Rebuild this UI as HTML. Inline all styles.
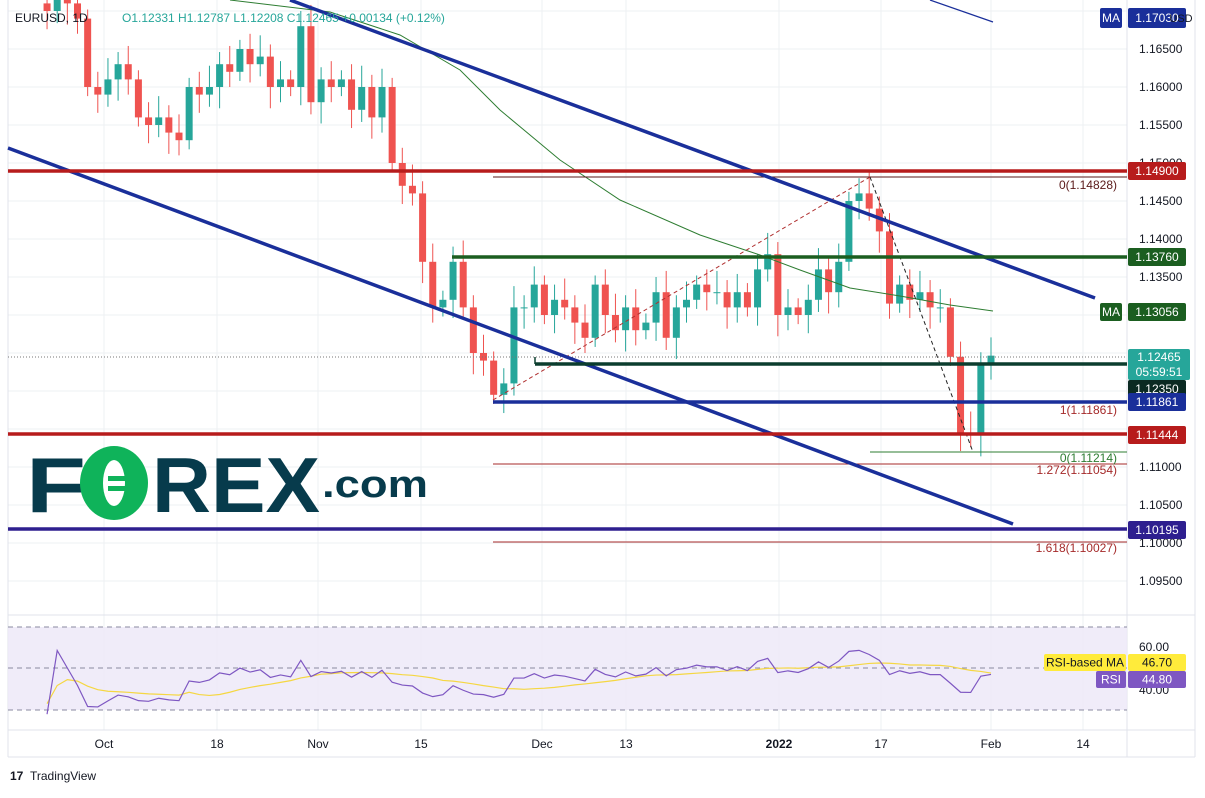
<!DOCTYPE html><html><head><meta charset="utf-8"><style>
body{margin:0;background:#fff;font-family:"Liberation Sans",sans-serif}
svg text{font-family:"Liberation Sans",sans-serif}
</style></head><body>
<svg id="s" width="1205" height="793" viewBox="0 0 1205 793" xmlns="http://www.w3.org/2000/svg">
<rect width="1205" height="793" fill="#fff"/>
<g id="grid" stroke="#eef0f3" stroke-width="1"></g>
<g id="cnd"></g>
<g id="ov"></g>
<g id="rsi"></g>
<g id="lab"></g>
</svg>
<script>
const NS="http://www.w3.org/2000/svg";
function el(p,t,a,txt){const e=document.createElementNS(NS,t);for(const k in a)e.setAttribute(k,a[k]);if(txt!==undefined)e.textContent=txt;document.getElementById(p).appendChild(e);return e;}
const Y=p=>49+(1.165-p)*7600;
for(let p=1.095;p<=1.1701;p+=0.005)el('grid','line',{x1:8,x2:1127,y1:Y(p),y2:Y(p)});
[104,217,318,421,542,626,779,881,991,1083].forEach(x=>el('grid','line',{x1:x,x2:x,y1:0,y2:730}));
el('grid','line',{x1:1127,x2:1127,y1:0,y2:757,stroke:'#e0e3eb'});
el('grid','line',{x1:8,x2:1195,y1:615,y2:615,stroke:'#e0e3eb'});
el('grid','line',{x1:8,x2:1195,y1:730,y2:730,stroke:'#e0e3eb'});
el('grid','line',{x1:8,x2:1195,y1:757,y2:757,stroke:'#e0e3eb'});
el('grid','line',{x1:1195,x2:1195,y1:0,y2:757,stroke:'#e0e3eb'});
el('grid','line',{x1:8,x2:8,y1:0,y2:757,stroke:'#e0e3eb'});
const C=[1.171,1.170,1.172,1.171,1.169,1.160,1.159,1.161,1.163,1.161,1.156,1.155,1.156,1.154,1.153,1.160,1.159,1.160,1.163,1.162,1.165,1.163,1.164,1.160,1.161,1.160,1.168,1.158,1.161,1.160,1.161,1.157,1.160,1.156,1.160,1.150,1.147,1.146,1.137,1.131,1.132,1.137,1.131,1.125,1.124,1.1195,1.121,1.131,1.131,1.134,1.130,1.132,1.131,1.129,1.127,1.134,1.130,1.128,1.131,1.128,1.129,1.133,1.127,1.131,1.132,1.134,1.133,1.133,1.131,1.133,1.131,1.136,1.138,1.130,1.131,1.130,1.132,1.136,1.133,1.137,1.145,1.146,1.144,1.141,1.1315,1.134,1.132,1.133,1.131,1.131,1.1245,1.1145,1.1142,1.1235,1.12465];
const N=C.length;
for(let i=1;i<N;i++){
 const x=991-(N-1-i)*10.15,o=C[i-1],c=C[i];
 const up=c>=o,col=up?'#26a69a':'#ef5350';
 const h=Math.max(o,c)+0.0012+((i*7)%5)*0.0004,l=Math.min(o,c)-0.0012-((i*3)%5)*0.0004;
 el('cnd','line',{x1:x,x2:x,y1:Y(h),y2:Y(l),stroke:col,'stroke-width':1});
 const t=Y(Math.max(o,c)),b=Y(Math.min(o,c));
 el('cnd','rect',{x:x-3.5,y:t,width:7,height:Math.max(1,b-t),fill:col});
}
const ov=(a)=>el('ov','line',a);
el('ov','polyline',{points:'230,0 330,12 400,35 460,70 500,110 560,160 620,200 700,235 760,255 800,270 850,288 900,296 950,305 993,311',fill:'none',stroke:'#2e7d32','stroke-width':1});
ov({x1:8,x2:1127,y1:357,y2:357,stroke:'#777','stroke-dasharray':'1,2'});
ov({x1:493,x2:1127,y1:177,y2:177,stroke:'#5a1a1a','stroke-width':1});
ov({x1:870,x2:1127,y1:452,y2:452,stroke:'#2e7d32','stroke-width':1});
ov({x1:493,x2:1127,y1:464,y2:464,stroke:'#a52a2a','stroke-width':1});
ov({x1:493,x2:1127,y1:542,y2:542,stroke:'#a52a2a','stroke-width':1});
ov({x1:493,x2:870,y1:400,y2:177,stroke:'#b03030','stroke-dasharray':'4,3'});
ov({x1:870,x2:973,y1:177,y2:452,stroke:'#222','stroke-dasharray':'4,3'});
ov({x1:290,x2:1095,y1:0,y2:298,stroke:'#1a2f9a','stroke-width':3.5});
ov({x1:8,x2:1013,y1:148,y2:524,stroke:'#1a2f9a','stroke-width':3.5});
ov({x1:930,x2:993,y1:0,y2:22,stroke:'#1a2f9a','stroke-width':1.2});
ov({x1:8,x2:1127,y1:171,y2:171,stroke:'#b71c1c','stroke-width':3.5});
ov({x1:452,x2:1127,y1:257,y2:257,stroke:'#1b5e20','stroke-width':3.5});
ov({x1:535,x2:1127,y1:364,y2:364,stroke:'#0b3d2e','stroke-width':3.5});
ov({x1:535,x2:535,y1:357,y2:364,stroke:'#0b3d2e','stroke-width':1.5});
ov({x1:493,x2:1127,y1:402,y2:402,stroke:'#1a2f9a','stroke-width':3.5});
ov({x1:8,x2:1127,y1:434,y2:434,stroke:'#b71c1c','stroke-width':3.5});
ov({x1:8,x2:1127,y1:529,y2:529,stroke:'#2e1f8f','stroke-width':3.5});
const ft=(x,y,t,c)=>el('ov','text',{x:x,y:y,'font-size':12,fill:c,'text-anchor':'end'},t);
ft(1117,189,'0(1.14828)','#5a1a1a');ft(1117,414,'1(1.11861)','#a52a2a');ft(1117,462,'0(1.11214)','#2e7d32');
ft(1117,474,'1.272(1.11054)','#a52a2a');ft(1117,552,'1.618(1.10027)','#a52a2a');
el('ov','text',{x:26,y:512,'font-size':78,'font-weight':'bold',fill:'#073b4c','textLength':60,'lengthAdjust':'spacingAndGlyphs'},'F');
el('ov','ellipse',{cx:114,cy:483,rx:34,ry:37,fill:'#0fb35a'});
el('ov','ellipse',{cx:114,cy:483,rx:11,ry:23,fill:'#fff'});
el('ov','rect',{x:108,y:476,width:38,height:5,fill:'#0fb35a'});el('ov','rect',{x:108,y:486,width:38,height:5,fill:'#0fb35a'});
el('ov','text',{x:152,y:512,'font-size':78,'font-weight':'bold',fill:'#073b4c','textLength':168,'lengthAdjust':'spacingAndGlyphs'},'REX');
el('ov','text',{x:322,y:497,'font-size':38,'font-weight':'bold',fill:'#073b4c','textLength':106,'lengthAdjust':'spacingAndGlyphs'},'.com');
el('rsi','rect',{x:8,y:627,width:1119,height:83,fill:'#ede9f8',opacity:0.85});
[627,668,710].forEach(y=>el('rsi','line',{x1:8,x2:1127,y1:y,y2:y,stroke:'#8a8aa0','stroke-dasharray':'5,4'}));
let r=[],ag=0,al=0;
for(let i=1;i<N;i++){const d=C[i]-C[i-1],g=Math.max(d,0),lo=Math.max(-d,0);
 if(i<=5){ag=(ag*(i-1)+g)/i;al=(al*(i-1)+lo)/i;}else{ag=(ag*10+g)/11;al=(al*10+lo)/11;}
 r.push(100-100/(1+ag/(al||1e-9)));}
r=r.map(v=>50+(v-50)*0.5);
const RY=v=>668-(v-50)*2.1;
let pts=[],mpts=[];
r.forEach((v,k)=>{const i=k+1,x=991-(N-1-i)*10.15;v=Math.max(28,Math.min(64,v));pts.push(x+','+RY(v));
 const s=r.slice(Math.max(0,k-13),k+1);const m=s.reduce((a,b)=>a+b,0)/s.length;mpts.push(x+','+RY(Math.max(33,Math.min(60,m))));});
el('rsi','polyline',{points:mpts.join(' '),fill:'none',stroke:'#f5d742','stroke-width':1.2});
el('rsi','polyline',{points:pts.join(' '),fill:'none',stroke:'#7e57c2','stroke-width':1.2});
const L=(y,t)=>el('lab','text',{x:1139,y:y+4,'font-size':12,fill:'#131722'},t);
[[1.165,'1.16500'],[1.16,'1.16000'],[1.155,'1.15500'],[1.15,'1.15000'],[1.145,'1.14500'],[1.14,'1.14000'],[1.135,'1.13500'],[1.11,'1.11000'],[1.105,'1.10500'],[1.1,'1.10000'],[1.095,'1.09500']].forEach(a=>L(Y(a[0]),a[1]));
L(647,'60.00');L(690,'40.00');
const B=(y,h,w,bg,t,fc,x0)=>{el('lab','rect',{x:x0||1128,y:y,width:w,height:h,rx:2,fill:bg});el('lab','text',{x:(x0||1128)+w/2,y:y+h/2+4,'font-size':12,fill:fc||'#fff','text-anchor':'middle'},t);};
B(8,20,58,'#1a2f9a','1.17030');B(8,20,22,'#1a2f9a','MA','#fff',1100);
el('lab','text',{x:1181,y:22,'font-size':11,fill:'#131722','text-anchor':'middle'},'USD');
B(162,18,58,'#b71c1c','1.14900');B(248,18,58,'#1b5e20','1.13760');
B(303,18,58,'#1b5e20','1.13056');B(303,18,22,'#1b5e20','MA','#fff',1100);
el('lab','rect',{x:1128,y:349,width:62,height:31,rx:2,fill:'#26a69a'});
el('lab','text',{x:1159,y:361,'font-size':12,fill:'#fff','text-anchor':'middle'},'1.12465');
el('lab','text',{x:1159,y:376,'font-size':12,fill:'#fff','text-anchor':'middle'},'05:59:51');
B(380,18,58,'#0b2a22','1.12350');B(393,18,58,'#1a2f9a','1.11861');B(426,18,58,'#b71c1c','1.11444');B(521,18,58,'#2e1f8f','1.10195');
B(654,17,82,'#ffeb3b','RSI-based MA','#131722',1044);B(654,17,58,'#ffeb3b','46.70','#131722');
B(671,17,30,'#7e57c2','RSI','#fff',1096);B(671,17,58,'#7e57c2','44.80');
[[104,'Oct'],[217,'18'],[318,'Nov'],[421,'15'],[542,'Dec'],[626,'13'],[779,'2022'],[881,'17'],[991,'Feb'],[1083,'14']].forEach(a=>el('lab','text',{x:a[0],y:748,'font-size':12,fill:'#131722','text-anchor':'middle','font-weight':a[1]=='2022'?'bold':'normal'},a[1]));
el('lab','text',{x:15,y:22,'font-size':12,fill:'#131722'},'EURUSD, 1D');
el('lab','text',{x:122,y:22,'font-size':12,fill:'#26a69a'},'O1.12331 H1.12787 L1.12208 C1.12465 +0.00134 (+0.12%)');
el('lab','text',{x:10,y:780,'font-size':12,fill:'#131722','font-weight':'bold'},'17');
el('lab','text',{x:30,y:780,'font-size':12,fill:'#131722'},'TradingView');
</script>
</body></html>
